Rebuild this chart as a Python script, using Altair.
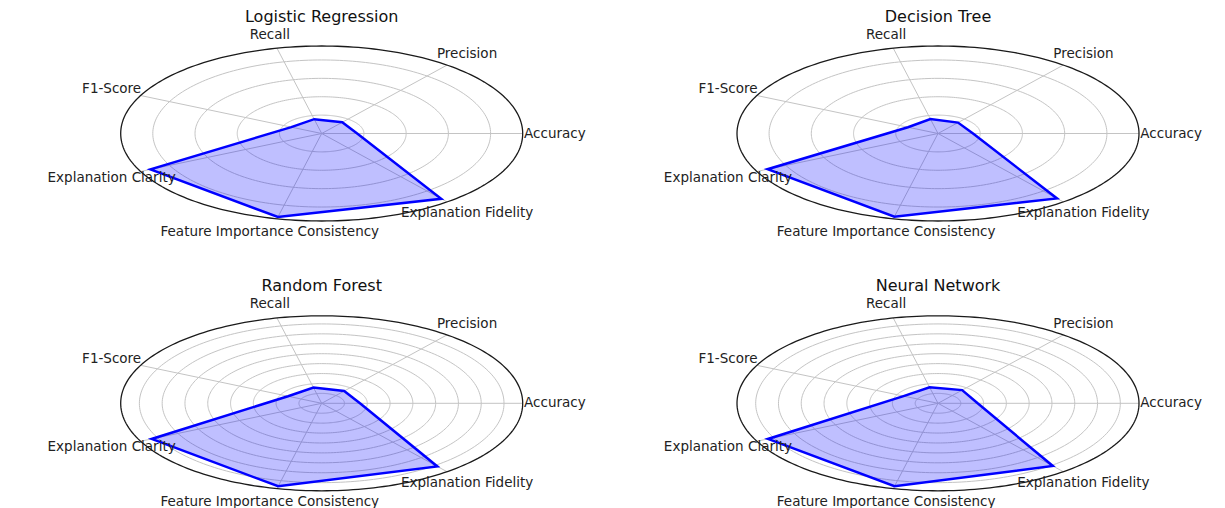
import altair as alt
import numpy as np
import pandas as pd

# ---------------- data ----------------
categories = ["Accuracy", "Precision", "Recall", "F1-Score",
              "Explanation Clarity", "Feature Importance Consistency",
              "Explanation Fidelity"]
models = ["Logistic Regression", "Decision Tree", "Random Forest", "Neural Network"]

logistic_regression = [0.84, 0.78, 0.80, 0.80, 4.50, 4.66, 4.54]
decision_tree = [0.83, 0.76, 0.81, 0.79, 4.48, 4.64, 4.52]
random_forest = [0.84, 0.79, 0.81, 0.82, 4.14, 4.29, 4.07]
neural_network = [0.87, 0.85, 0.83, 0.84, 4.14, 4.29, 4.04]

# radial axis limits and gridline ticks of each panel
radial_limits = [4.76, 4.76, 4.41, 4.41]
grid_top = [1, 2, 3, 4]
grid_bottom = [0.5, 1.0, 1.5, 2.0, 2.5, 3.0, 3.5, 4.0]

# ---------------- layout ----------------
W, H = 590, 240          # plot area of each panel
RX, RY = 201, 87.5       # pixel radii of the outer ellipse
FONT = "DejaVu Sans"
GRID = "#c4c4c4"


def radar(title, values, rmax, ticks, cx, cy):
    n = len(categories)
    theta = [2 * np.pi * i / n for i in range(n)]
    xs = alt.Scale(domain=[-cx * rmax / RX, (W - cx) * rmax / RX], nice=False, zero=False)
    ys = alt.Scale(domain=[-(H - cy) * rmax / RY, cy * rmax / RY], nice=False, zero=False)

    def X(f):
        return alt.X(f, type="quantitative", scale=xs, axis=None)

    def Y(f):
        return alt.Y(f, type="quantitative", scale=ys, axis=None)

    phi = np.linspace(0, 2 * np.pi, 241)
    grid_df = pd.DataFrame([{"r": float(t), "phi": float(p), "k": j}
                            for t in ticks for j, p in enumerate(phi)])
    grid = (alt.Chart(grid_df)
            .transform_calculate(gx="datum.r*cos(datum.phi)", gy="datum.r*sin(datum.phi)")
            .mark_line(color=GRID, strokeWidth=1)
            .encode(x=X("gx"), y=Y("gy"), detail="r:N", order="k:Q"))

    outer_df = pd.DataFrame({"r": rmax, "phi": phi, "k": range(len(phi))})
    outer = (alt.Chart(outer_df)
             .transform_calculate(gx="datum.r*cos(datum.phi)", gy="datum.r*sin(datum.phi)")
             .mark_line(color="#1a1a1a", strokeWidth=1.3)
             .encode(x=X("gx"), y=Y("gy"), order="k:Q"))

    spoke_df = pd.DataFrame({"theta": theta, "r": rmax, "o": 0.0})
    spokes = (alt.Chart(spoke_df)
              .transform_calculate(sx="datum.r*cos(datum.theta)", sy="datum.r*sin(datum.theta)")
              .mark_rule(color=GRID, strokeWidth=1)
              .encode(x=X("o"), y=Y("o"), x2="sx:Q", y2="sy:Q"))

    poly_df = pd.DataFrame({"category": categories + [categories[0]],
                            "value": values + [values[0]],
                            "theta": theta + [2 * np.pi],
                            "k": range(n + 1)})
    poly = (alt.Chart(poly_df)
            .transform_calculate(px="datum.value*cos(datum.theta)", py="datum.value*sin(datum.theta)")
            .mark_line(stroke="#0000ff", strokeWidth=2.5, fill="#0000ff", fillOpacity=0.25,
                       strokeJoin="miter")
            .encode(x=X("px"), y=Y("py"), order="k:Q"))

    label_df = pd.DataFrame({"category": categories, "theta": theta, "r": 1.16 * rmax})
    labels = (alt.Chart(label_df)
              .transform_calculate(lx="datum.r*cos(datum.theta)", ly="datum.r*sin(datum.theta)")
              .mark_text(font=FONT, fontSize=13.5, color="#222222", align="center", baseline="middle")
              .encode(x=X("lx"), y=Y("ly"), text="category:N"))

    title_df = pd.DataFrame({"t": [title], "x": [0.0], "y": [1.335 * rmax]})
    ttl = (alt.Chart(title_df)
           .mark_text(font=FONT, fontSize=16, color="#111111", align="center", baseline="middle")
           .encode(x=X("x"), y=Y("y"), text="t:N"))

    return alt.layer(grid, spokes, poly, outer, labels, ttl).properties(width=W, height=H)


p1 = radar(models[0], logistic_regression, radial_limits[0], grid_top, 313.7, 124.5)
p2 = radar(models[1], decision_tree, radial_limits[1], grid_top, 320.0, 124.5)
p3 = radar(models[2], random_forest, radial_limits[2], grid_bottom, 313.7, 144.3)
p4 = radar(models[3], neural_network, radial_limits[3], grid_bottom, 320.0, 144.3)

chart = (alt.concat(p1, p2, p3, p4, columns=2,
                    spacing={"row": 10, "column": 20}, bounds="flush")
         .properties(padding=0, background="white")
         .configure_view(stroke=None))

chart.save("out.html", embed_options={"renderer": "svg", "actions": False})
